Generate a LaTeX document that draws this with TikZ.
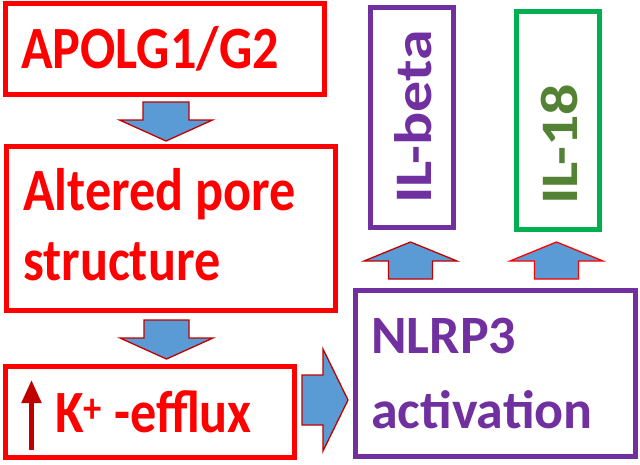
\documentclass[tikz,border=0pt]{standalone}
\usepackage{fontspec}
\setmainfont{Carlito}
\newfontfamily\squeezed[FakeStretch=0.87]{Carlito}
\usepackage{xcolor}
\usepackage{tikz}
\usetikzlibrary{positioning,calc,arrows.meta}
\definecolor{alarm}{HTML}{FF0000}
\definecolor{deepred}{HTML}{C00000}
\definecolor{grape}{HTML}{7030A0}
\definecolor{leaf}{HTML}{00B050}
\definecolor{moss}{HTML}{548235}
\definecolor{sky}{HTML}{5B9BD5}

\begin{document}
\begin{tikzpicture}[x=1pt,y=-1pt,
    box/.style={draw=#1, line width=5pt, inner sep=0pt},
    redtext/.style={text=alarm, inner sep=0pt, anchor=base west,
      font=\squeezed\bfseries\fontsize{60}{70}\selectfont},
    purpletext/.style={text=grape, inner sep=0pt, anchor=base west,
      font=\bfseries\fontsize{54}{75}\selectfont},
    sidetext/.style={inner sep=0pt, rotate=90, anchor=west,
      font=\bfseries\fontsize{62}{70}\selectfont},
    fat/.style={draw=deepred, fill=sky, line width=1.3pt, line join=miter},
    pics/blockarrow/.style n args={4}{code={
      \draw[fat] (-#1,0) -- (#1,0) -- (#1,#3) -- (#2,#3) -- (0,#4)
        -- (-#2,#3) -- (-#1,#3) -- cycle;}}]
  \useasboundingbox (0,0) rectangle (640,464);

  % left column
  \node[box=alarm, minimum width=319pt, minimum height=91pt] (apol) at (165,49) {};
  \node[redtext] (apoltxt) at (21,68) {APOLG1/G2};
  \node[box=alarm, minimum width=329pt, minimum height=164pt] (pore) at (171,228.5) {};
  \node[redtext, align=left] (poretxt) at (23,280) {Altered pore\\structure};
  \node[box=alarm, minimum width=289pt, minimum height=91pt] (kbox) at (150,412) {};
  \node[redtext] (ktxt) at (55,432) {K\textsuperscript{+} -efflux};
  \coordinate (kfoot) at (31.5,450);
  \coordinate (ktop) at (31.5,380);
  \draw[deepred, line width=5pt, -{Triangle[length=23pt,width=19pt]}] (kfoot) -- (ktop);

  % right column
  \node[box=grape, minimum width=280.5pt, minimum height=166pt] (nlrp) at (495.25,373.5) {};
  \node[purpletext, align=left] (nlrptxt) at (371,428) {NLRP3\\activation};
  \node[box=grape, minimum width=83pt, minimum height=220pt] (ilb) at (412,117.5) {};
  \node[sidetext, text=grape] (ilbtxt) at (413.5,204) {\scalebox{1}[0.85]{IL-beta}};
  \node[box=leaf, minimum width=83pt, minimum height=218pt] (il18) at (558,120.5) {};
  \node[sidetext, text=moss] (il18txt) at (559.5,205) {\scalebox{1}[0.85]{IL-18}};

  % block arrows
  \pic at (166,102) {blockarrow={23}{46.5}{18}{39}};
  \pic at (166.5,320) {blockarrow={22.5}{46.5}{18}{39}};
  \pic[rotate=90] at (302,400) {blockarrow={25}{51}{21}{46}};
  \pic[rotate=180] at (410.5,279) {blockarrow={22}{46.5}{18}{37}};
  \pic[rotate=180, fat/.append style={draw=alarm}] at (556.5,279) {blockarrow={22}{46.5}{18}{37}};
\end{tikzpicture}
\end{document}
